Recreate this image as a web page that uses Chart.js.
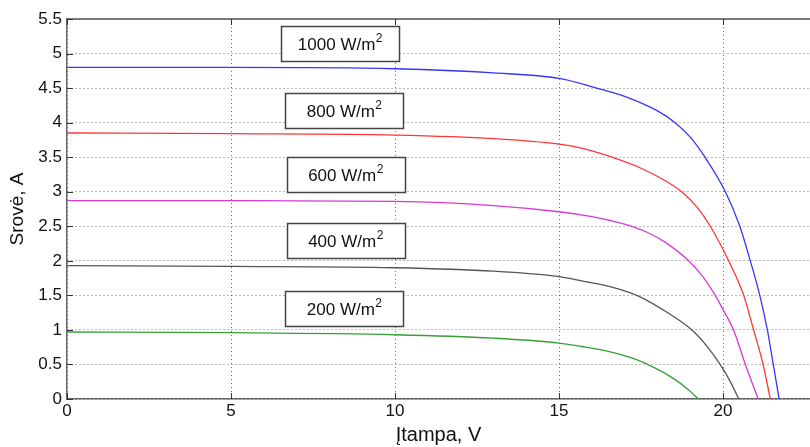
<!DOCTYPE html>
<html>
<head>
<meta charset="utf-8">
<script src="https://cdn.jsdelivr.net/npm/chart.js@4/dist/chart.umd.min.js"></script>
<style>
  html, body { margin: 0; padding: 0; background: #fff; }
  #wrap { width: 810px; height: 447px; }
</style>
</head>
<body>
<div id="wrap"><canvas id="ivChart"></canvas></div>
<script>
'use strict';

// ── Data ─────────────────────────────────────────────────────────────────────

const V_1000 = [0, 5, 10, 13, 15, 16.15, 17, 18, 18.54, 19, 19.45, 20.07, 20.51, 20.83, 21.12, 21.35, 21.53, 21.71];
const I_1000 = [4.80, 4.80, 4.78, 4.72, 4.64, 4.50, 4.38, 4.17, 4.0, 3.79, 3.5, 3.0, 2.5, 2.0, 1.5, 1.0, 0.5, 0];

const V_800 = [0, 5, 10, 13, 15, 15.69, 16.61, 17.5, 18.2, 18.74, 19.2, 19.61, 20.17, 20.63, 20.93, 21.22, 21.44];
const I_800 = [3.85, 3.84, 3.82, 3.77, 3.69, 3.63, 3.5, 3.34, 3.17, 3.0, 2.78, 2.5, 2.0, 1.5, 1.0, 0.5, 0];

const V_600 = [0, 5, 10, 13, 15, 16, 16.6, 17.22, 17.7, 18.23, 18.95, 19.4, 19.76, 20.05, 20.32, 20.68, 21.07];
const I_600 = [2.87, 2.87, 2.86, 2.80, 2.71, 2.64, 2.58, 2.50, 2.41, 2.27, 2.0, 1.76, 1.5, 1.25, 1.0, 0.5, 0];

const V_400 = [0, 5, 10, 13, 15, 15.69, 16.61, 17.42, 18.34, 19.05, 19.5, 19.91, 20.2, 20.48];
const I_400 = [1.93, 1.92, 1.90, 1.85, 1.77, 1.71, 1.62, 1.49, 1.24, 1.0, 0.77, 0.5, 0.27, 0];

const V_200 = [0, 5, 10, 13, 15, 15.69, 16.3, 17.3, 17.92, 18.54, 18.95, 19.25];
const I_200 = [0.97, 0.96, 0.93, 0.88, 0.81, 0.76, 0.71, 0.58, 0.45, 0.28, 0.13, 0];

const SERIES_NAMES = ['1000 W/m', '800 W/m', '600 W/m', '400 W/m', '200 W/m'];
const UNIT_SUP     = '2';

const X_TITLE = 'Įtampa, V';
const Y_TITLE = 'Srovė, A';

// ── Styling / layout ─────────────────────────────────────────────────────────

const COLORS = ['#3535ff', '#ff3535', '#d63ad6', '#555555', '#35a035'];

// label box centres, in axis units
const LABEL_ANCHORS = [
  { v: 8.32, a: 5.15 },
  { v: 8.45, a: 4.18 },
  { v: 8.49, a: 3.25 },
  { v: 8.49, a: 2.29 },
  { v: 8.45, a: 1.31 },
];

const FONT = '"Liberation Sans", Arial, Helvetica, sans-serif';

const toPoints = (xs, ys) => xs.map((x, i) => ({ x, y: ys[i] }));

const seriesData = [
  toPoints(V_1000, I_1000),
  toPoints(V_800, I_800),
  toPoints(V_600, I_600),
  toPoints(V_400, I_400),
  toPoints(V_200, I_200),
];

// ── Plugins ──────────────────────────────────────────────────────────────────

const frameTicks = {
  id: 'frameTicks',
  afterDatasetsDraw(chart) {
    const { ctx, chartArea: a, scales: { x, y } } = chart;
    ctx.save();
    ctx.strokeStyle = '#555';
    ctx.lineWidth = 1.5;
    ctx.beginPath();
    ctx.moveTo(a.left, a.top);
    ctx.lineTo(a.right, a.top);
    ctx.stroke();

    ctx.strokeStyle = '#333';
    ctx.lineWidth = 1;
    ctx.beginPath();
    x.ticks.forEach(t => {
      const px = Math.round(x.getPixelForValue(t.value)) + 0.5;
      ctx.moveTo(px, a.bottom); ctx.lineTo(px, a.bottom - 6);
      ctx.moveTo(px, a.top);    ctx.lineTo(px, a.top + 6);
    });
    y.ticks.forEach(t => {
      const py = Math.round(y.getPixelForValue(t.value)) + 0.5;
      ctx.moveTo(a.left, py); ctx.lineTo(a.left + 6, py);
    });
    ctx.stroke();
    ctx.restore();
  },
};

const labelBoxes = {
  id: 'labelBoxes',
  afterDatasetsDraw(chart) {
    const { ctx, scales: { x, y } } = chart;
    ctx.save();
    SERIES_NAMES.forEach((name, i) => {
      const cx = x.getPixelForValue(LABEL_ANCHORS[i].v);
      const cy = y.getPixelForValue(LABEL_ANCHORS[i].a);
      const w = 118, h = 35;
      const bx = Math.round(cx - w / 2) + 0.5;
      const by = Math.round(cy - h / 2) + 0.5;
      ctx.fillStyle = '#fff';
      ctx.fillRect(bx, by, w, h);
      ctx.strokeStyle = '#444';
      ctx.lineWidth = 1.5;
      ctx.strokeRect(bx, by, w, h);

      ctx.fillStyle = '#111';
      ctx.textBaseline = 'alphabetic';
      ctx.textAlign = 'left';
      ctx.font = `17px ${FONT}`;
      const mainW = ctx.measureText(name).width;
      ctx.font = `12px ${FONT}`;
      const supW = ctx.measureText(UNIT_SUP).width;
      const startX = cx - (mainW + supW) / 2;
      const base = cy + 6.5;
      ctx.font = `17px ${FONT}`;
      ctx.fillText(name, startX, base);
      ctx.font = `12px ${FONT}`;
      ctx.fillText(UNIT_SUP, startX + mainW + 0.5, base - 8);
    });
    ctx.restore();
  },
};

// ── Chart ────────────────────────────────────────────────────────────────────

new Chart(document.getElementById('ivChart').getContext('2d'), {
  type: 'line',
  data: {
    datasets: seriesData.map((data, i) => ({
      label: SERIES_NAMES[i] + UNIT_SUP,
      data,
      borderColor: COLORS[i],
      borderWidth: 1.3,
      pointRadius: 0,
      fill: false,
      cubicInterpolationMode: 'monotone',
    })),
  },
  options: {
    responsive: true,
    maintainAspectRatio: false,
    animation: false,
    layout: { padding: { top: 19, right: 0, left: 0, bottom: 0 } },
    plugins: {
      legend: { display: false },
      tooltip: { enabled: false },
    },
    scales: {
      x: {
        type: 'linear',
        min: 0,
        max: 22.65,
        afterFit: s => { s.height = 48; },
        ticks: {
          stepSize: 5,
          includeBounds: false,
          color: '#111',
          padding: 2,
          maxRotation: 0,
          font: { family: FONT, size: 17 },
        },
        grid: { color: 'rgba(0,0,0,0.55)', lineWidth: 1, drawTicks: false },
        border: { display: true, color: '#666', width: 1.5, dash: [1, 3] },
        title: {
          display: true,
          text: X_TITLE,
          color: '#111',
          font: { family: FONT, size: 20 },
          padding: { top: 0, bottom: 0 },
        },
      },
      y: {
        min: 0,
        max: 5.5,
        afterFit: s => { s.width = 67; },
        ticks: {
          stepSize: 0.5,
          color: '#111',
          padding: 5,
          font: { family: FONT, size: 17 },
          callback: v => String(Math.round(v * 10) / 10),
        },
        grid: { color: 'rgba(0,0,0,0.55)', lineWidth: 1, drawTicks: false },
        border: { display: true, color: '#666', width: 1.5, dash: [1, 3] },
        title: {
          display: true,
          text: Y_TITLE,
          color: '#111',
          font: { family: FONT, size: 19 },
          padding: { top: 6, bottom: 0 },
        },
      },
    },
  },
  plugins: [frameTicks, labelBoxes],
});
</script>
</body>
</html>
